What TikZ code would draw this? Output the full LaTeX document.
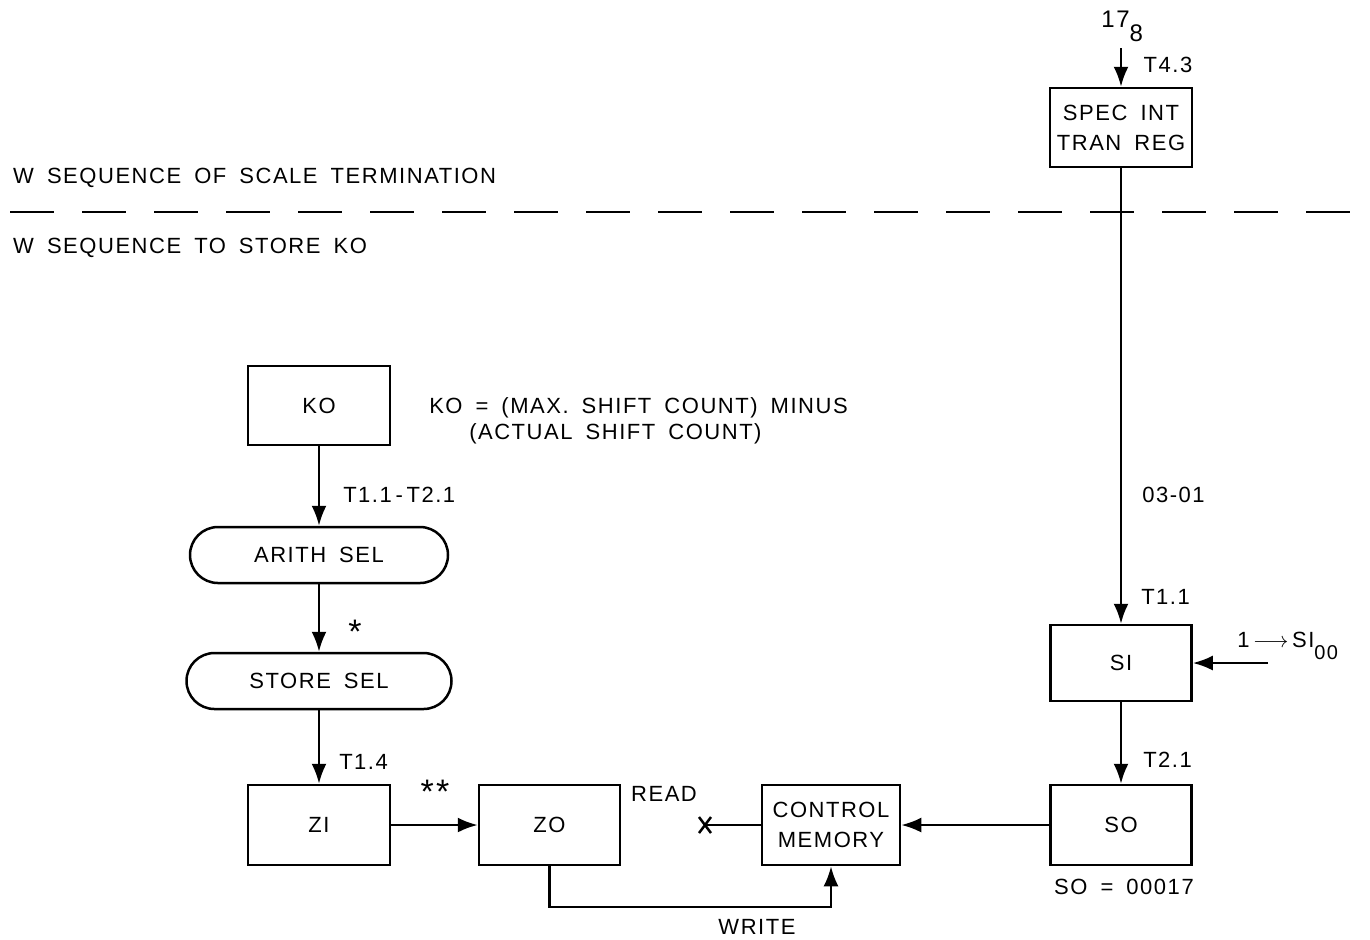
\documentclass[tikz,border=0pt]{standalone}
\usepackage{fontspec}
\setmainfont{Liberation Sans}[LetterSpace=7,WordSpace=1.7]
\usetikzlibrary{arrows.meta,shapes.misc}
\begin{document}
\begin{tikzpicture}[x=0.5pt,y=-0.5pt,line width=1.25pt,
  txt/.style={font=\fontsize{11}{14}\selectfont},
  box/.style={draw,txt,line width=1.25pt,minimum width=71pt,minimum height=40pt,inner sep=0pt,align=center},
  pill/.style={draw,txt,rounded rectangle,line width=1.25pt,minimum height=28pt,inner sep=0pt},
  lbl/.style={txt,inner sep=0pt},
  starlbl/.style={font=\fontsize{17}{17}\selectfont,inner sep=0pt},
  arr/.style={-{Latex[length=10pt,width=7.5pt]}}]
\useasboundingbox (0,0) rectangle (1370,939);

% section texts and divider
\node[lbl,anchor=west] (t1) at (12,178) {W SEQUENCE OF SCALE TERMINATION};
\node[lbl,anchor=west] (t2) at (12,248) {W SEQUENCE TO STORE KO};
\coordinate (dl) at (10,212);
\coordinate (dr) at (1352,212);
\draw[line width=1.25pt,dash pattern=on 22pt off 14pt] (dl) -- (dr);

% right column
\node[lbl,anchor=base west] (n17) at (1100,27) {\fontsize{12}{14}\selectfont 17\raisebox{-7pt}{8}};
\coordinate (in17) at (1121,48);
\node[box,minimum height=39.5pt] (spec) at (1121,127.5) {SPEC INT\\[1pt]TRAN REG};
\node[lbl] (t43) at (1168,65) {T4.3};
\node[box,minimum width=70.5pt,minimum height=38pt] (si) at (1121,663) {SI};
\node[box,minimum width=70.5pt] (so) at (1121,825) {SO};
\node[lbl,anchor=west] (l0301) at (1141,495) {03-01};
\node[lbl,anchor=west] (lt11r) at (1140,597) {T1.1};
\node[lbl,anchor=west] (lt21) at (1142,760) {T2.1};
\node[lbl] (so17) at (1124,887) {SO = 00017};
\coordinate (one) at (1268,663);
\node[lbl,anchor=west] (onesi) at (1236,646) {1\,$\longrightarrow$\,SI\raisebox{-6pt}{\fontsize{10}{12}\selectfont 00}};

\draw[arr] (in17) -- (spec.north);
\draw[arr] (spec.south) -- (si.north);
\draw[arr] (si.south) -- (so.north);
\draw[arr] (one) -- (si.east);

% left column
\node[box,minimum height=39.5pt] (ko) at (319,405.5) {KO};
\node[lbl,anchor=west] (kodef1) at (428,408) {KO = (MAX. SHIFT COUNT) MINUS};
\node[lbl,anchor=west] (kodef2) at (468,434) {(ACTUAL SHIFT COUNT)};
\node[pill,minimum width=129pt] (arith) at (319,555) {ARITH SEL};
\node[pill,minimum width=132.5pt] (store) at (319,681) {STORE SEL};
\node[box] (zi) at (319,825) {ZI};
\node[lbl,anchor=west] (lt1121) at (342,495) {T1.1\,-\,T2.1};
\node[starlbl] (star) at (355,632) {*};
\node[lbl,anchor=west] (lt14) at (338,762) {T1.4};

\draw[arr] (ko.south) -- (arith.north);
\draw[arr] (arith.south) -- (store.north);
\draw[arr] (store.south) -- (zi.north);

% bottom row
\node[box,minimum width=70.5pt] (zo) at (549.5,825) {ZO};
\node[box,minimum width=69pt] (cm) at (831,825) {CONTROL\\[1pt]MEMORY};
\node[starlbl] (stars) at (435,792) {**};
\node[lbl] (read) at (664,794) {READ};
\node[lbl] (write) at (757,927) {WRITE};
\coordinate (xm) at (705,825);
\coordinate (wr) at (831,907);

\draw[arr] (zi.east) -- (zo.west);
\draw[arr] (so.west) -- (cm.east);
\draw (cm.west) -- (xm);
\draw (xm) ++(-6,-8) -- ++(12,16) (xm) ++(6,-8) -- ++(-12,16);
\draw[arr] (zo.south) |- (wr) -- (cm.south);
\end{tikzpicture}
\end{document}
